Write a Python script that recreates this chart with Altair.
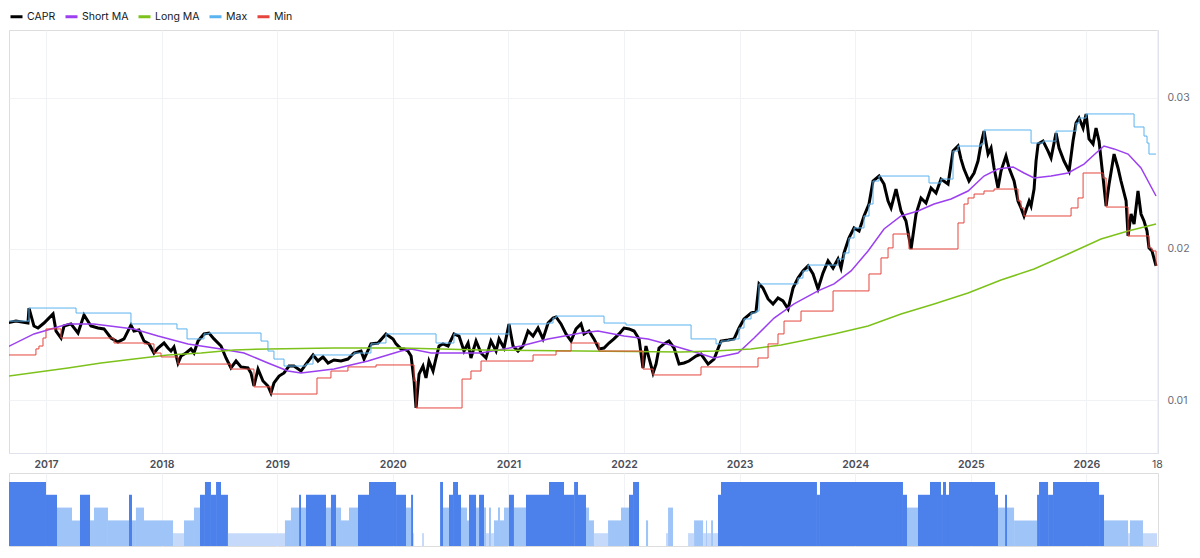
import altair as alt
import pandas as pd

# ---------------- data (decimal year, value) ----------------
series_names = ["CAPR", "Short MA", "Long MA", "Max", "Min"]
series_colors = ["#000000", "#9b3ff0", "#7cc21a", "#5bb3ef", "#e5453c"]

capr = [
    (2016.654, 0.01511), (2016.740, 0.01524), (2016.844, 0.01511), (2016.853, 0.01610), (2016.896, 0.01491),
    (2016.931, 0.01478), (2016.983, 0.01511), (2017.061, 0.01571), (2017.087, 0.01458), (2017.130, 0.01412),
    (2017.156, 0.01491), (2017.216, 0.01505), (2017.277, 0.01445), (2017.329, 0.01564), (2017.389, 0.01491),
    (2017.450, 0.01478), (2017.502, 0.01472), (2017.562, 0.01412), (2017.623, 0.01386), (2017.675, 0.01406),
    (2017.735, 0.01498), (2017.761, 0.01458), (2017.804, 0.01465), (2017.848, 0.01392), (2017.891, 0.01373),
    (2017.934, 0.01313), (2017.969, 0.01346), (2018.021, 0.01379), (2018.055, 0.01346), (2018.081, 0.01326),
    (2018.107, 0.01353), (2018.142, 0.01247), (2018.168, 0.01293), (2018.211, 0.01313), (2018.254, 0.01340),
    (2018.280, 0.01313), (2018.315, 0.01392), (2018.367, 0.01439), (2018.410, 0.01445), (2018.453, 0.01406),
    (2018.514, 0.01359), (2018.557, 0.01280), (2018.600, 0.01214), (2018.644, 0.01260), (2018.687, 0.01221),
    (2018.747, 0.01214), (2018.773, 0.01181), (2018.799, 0.01095), (2018.834, 0.01207), (2018.877, 0.01128),
    (2018.920, 0.01095), (2018.946, 0.01049), (2018.972, 0.01115), (2019.016, 0.01161), (2019.059, 0.01181),
    (2019.102, 0.01227), (2019.145, 0.01227), (2019.206, 0.01194), (2019.249, 0.01240), (2019.310, 0.01300),
    (2019.353, 0.01260), (2019.396, 0.01287), (2019.440, 0.01247), (2019.491, 0.01267), (2019.552, 0.01260),
    (2019.612, 0.01273), (2019.664, 0.01313), (2019.725, 0.01326), (2019.751, 0.01273), (2019.811, 0.01373),
    (2019.872, 0.01379), (2019.941, 0.01439), (2020.002, 0.01406), (2020.028, 0.01373), (2020.071, 0.01340),
    (2020.097, 0.01340), (2020.131, 0.01326), (2020.158, 0.01293), (2020.184, 0.01128), (2020.201, 0.00950),
    (2020.227, 0.01174), (2020.261, 0.01227), (2020.287, 0.01148), (2020.313, 0.01260), (2020.348, 0.01194),
    (2020.374, 0.01280), (2020.400, 0.01359), (2020.434, 0.01373), (2020.478, 0.01359), (2020.529, 0.01439),
    (2020.573, 0.01425), (2020.616, 0.01326), (2020.651, 0.01379), (2020.676, 0.01280), (2020.720, 0.01392),
    (2020.763, 0.01313), (2020.806, 0.01280), (2020.849, 0.01392), (2020.893, 0.01326), (2020.919, 0.01406),
    (2020.962, 0.01346), (2021.005, 0.01505), (2021.040, 0.01359), (2021.083, 0.01326), (2021.126, 0.01359),
    (2021.170, 0.01458), (2021.213, 0.01425), (2021.256, 0.01478), (2021.299, 0.01406), (2021.343, 0.01511),
    (2021.386, 0.01544), (2021.412, 0.01551), (2021.455, 0.01505), (2021.498, 0.01439), (2021.542, 0.01392),
    (2021.585, 0.01472), (2021.628, 0.01505), (2021.654, 0.01439), (2021.697, 0.01458), (2021.740, 0.01406),
    (2021.784, 0.01340), (2021.827, 0.01346), (2021.870, 0.01379), (2021.913, 0.01406), (2021.957, 0.01439),
    (2022.000, 0.01478), (2022.043, 0.01472), (2022.087, 0.01458), (2022.130, 0.01406), (2022.164, 0.01214),
    (2022.190, 0.01359), (2022.216, 0.01280), (2022.251, 0.01181), (2022.277, 0.01240), (2022.303, 0.01346),
    (2022.346, 0.01373), (2022.389, 0.01392), (2022.433, 0.01346), (2022.476, 0.01240), (2022.519, 0.01247),
    (2022.562, 0.01260), (2022.623, 0.01293), (2022.666, 0.01306), (2022.727, 0.01240), (2022.779, 0.01273),
    (2022.839, 0.01392), (2022.900, 0.01399), (2022.952, 0.01406), (2022.995, 0.01478), (2023.038, 0.01538),
    (2023.099, 0.01577), (2023.142, 0.01590), (2023.168, 0.01769), (2023.202, 0.01742), (2023.246, 0.01670),
    (2023.289, 0.01637), (2023.332, 0.01676), (2023.375, 0.01657), (2023.419, 0.01604), (2023.462, 0.01742),
    (2023.505, 0.01808), (2023.548, 0.01855), (2023.592, 0.01888), (2023.635, 0.01835), (2023.678, 0.01736),
    (2023.721, 0.01841), (2023.765, 0.01921), (2023.808, 0.01874), (2023.851, 0.01934), (2023.877, 0.01874),
    (2023.903, 0.01974), (2023.946, 0.02073), (2023.990, 0.02139), (2024.033, 0.02119), (2024.076, 0.02218),
    (2024.119, 0.02297), (2024.154, 0.02449), (2024.206, 0.02482), (2024.249, 0.02429), (2024.284, 0.02317),
    (2024.310, 0.02271), (2024.353, 0.02396), (2024.396, 0.02251), (2024.439, 0.02185), (2024.483, 0.02000),
    (2024.526, 0.02231), (2024.569, 0.02337), (2024.612, 0.02304), (2024.656, 0.02403), (2024.699, 0.02370),
    (2024.742, 0.02462), (2024.803, 0.02429), (2024.846, 0.02647), (2024.889, 0.02680), (2024.915, 0.02594),
    (2024.941, 0.02528), (2024.984, 0.02449), (2025.028, 0.02502), (2025.062, 0.02581), (2025.088, 0.02694),
    (2025.114, 0.02779), (2025.149, 0.02627), (2025.175, 0.02667), (2025.201, 0.02535), (2025.235, 0.02403),
    (2025.261, 0.02515), (2025.304, 0.02614), (2025.331, 0.02535), (2025.374, 0.02449), (2025.408, 0.02317),
    (2025.434, 0.02271), (2025.460, 0.02218), (2025.504, 0.02317), (2025.521, 0.02284), (2025.547, 0.02396),
    (2025.564, 0.02581), (2025.582, 0.02694), (2025.625, 0.02713), (2025.668, 0.02647), (2025.694, 0.02601),
    (2025.737, 0.02766), (2025.763, 0.02667), (2025.806, 0.02581), (2025.850, 0.02515), (2025.884, 0.02713),
    (2025.910, 0.02832), (2025.936, 0.02865), (2025.971, 0.02799), (2025.997, 0.02892), (2026.022, 0.02727),
    (2026.057, 0.02694), (2026.083, 0.02799), (2026.109, 0.02713), (2026.144, 0.02469), (2026.170, 0.02284),
    (2026.196, 0.02429), (2026.239, 0.02627), (2026.273, 0.02535), (2026.299, 0.02449), (2026.343, 0.02317),
    (2026.360, 0.02086), (2026.386, 0.02231), (2026.412, 0.02165), (2026.446, 0.02383), (2026.472, 0.02231),
    (2026.498, 0.02185), (2026.524, 0.02119), (2026.541, 0.02007), (2026.567, 0.01987), (2026.602, 0.01888),
]

short_ma = [
    (2016.654, 0.01348), (2016.896, 0.01439), (2017.190, 0.01505), (2017.415, 0.01505), (2017.761, 0.01472),
    (2017.969, 0.01425), (2018.228, 0.01373), (2018.514, 0.01340), (2018.713, 0.01313), (2018.920, 0.01247),
    (2019.093, 0.01194), (2019.206, 0.01181), (2019.491, 0.01207), (2019.785, 0.01260), (2019.898, 0.01287),
    (2020.071, 0.01326), (2020.158, 0.01340), (2020.331, 0.01313), (2020.763, 0.01313), (2021.109, 0.01359),
    (2021.343, 0.01406), (2021.628, 0.01445), (2021.775, 0.01458), (2022.000, 0.01425), (2022.208, 0.01406),
    (2022.433, 0.01359), (2022.640, 0.01313), (2022.779, 0.01280), (2022.986, 0.01313), (2023.125, 0.01412),
    (2023.298, 0.01544), (2023.471, 0.01637), (2023.678, 0.01723), (2023.817, 0.01769), (2023.964, 0.01855),
    (2024.111, 0.01987), (2024.249, 0.02132), (2024.396, 0.02218), (2024.543, 0.02251), (2024.682, 0.02297),
    (2024.829, 0.02330), (2024.976, 0.02383), (2025.114, 0.02482), (2025.235, 0.02528), (2025.365, 0.02542),
    (2025.460, 0.02502), (2025.547, 0.02469), (2025.694, 0.02482), (2025.841, 0.02502), (2025.979, 0.02561),
    (2026.083, 0.02634), (2026.152, 0.02680), (2026.239, 0.02661), (2026.360, 0.02627), (2026.472, 0.02535),
    (2026.602, 0.02350),
]

long_ma = [
    (2016.654, 0.01158), (2017.190, 0.01214), (2017.476, 0.01247), (2017.761, 0.01273), (2018.055, 0.01300),
    (2018.341, 0.01313), (2018.626, 0.01333), (2018.920, 0.01340), (2019.491, 0.01346), (2020.071, 0.01346),
    (2020.763, 0.01333), (2021.628, 0.01326), (2022.493, 0.01320), (2022.779, 0.01326), (2023.099, 0.01340),
    (2023.358, 0.01366), (2023.531, 0.01392), (2023.817, 0.01439), (2024.111, 0.01491), (2024.396, 0.01571),
    (2024.682, 0.01637), (2024.976, 0.01709), (2025.261, 0.01795), (2025.547, 0.01868), (2025.841, 0.01967),
    (2026.126, 0.02066), (2026.360, 0.02119), (2026.602, 0.02165),
]

max_line = [
    (2016.654, 0.01524), (2016.853, 0.01610), (2017.260, 0.01577), (2017.735, 0.01505), (2018.133, 0.01472),
    (2018.220, 0.01406), (2018.367, 0.01439), (2018.410, 0.01445), (2018.860, 0.01392), (2018.920, 0.01326),
    (2018.972, 0.01273), (2019.059, 0.01227), (2019.249, 0.01240), (2019.310, 0.01300), (2019.664, 0.01313),
    (2019.811, 0.01373), (2019.872, 0.01379), (2019.941, 0.01439), (2020.374, 0.01379), (2020.529, 0.01439),
    (2021.005, 0.01505), (2021.343, 0.01511), (2021.386, 0.01544), (2021.412, 0.01557), (2021.827, 0.01511),
    (2022.017, 0.01498), (2022.580, 0.01406), (2022.796, 0.01373), (2022.839, 0.01392), (2022.900, 0.01399),
    (2022.952, 0.01406), (2022.995, 0.01478), (2023.038, 0.01538), (2023.099, 0.01577), (2023.142, 0.01590),
    (2023.168, 0.01769), (2023.505, 0.01808), (2023.548, 0.01855), (2023.592, 0.01894), (2023.851, 0.01934),
    (2023.903, 0.01974), (2023.946, 0.02073), (2023.990, 0.02139), (2024.076, 0.02218), (2024.119, 0.02297),
    (2024.154, 0.02449), (2024.206, 0.02482), (2024.638, 0.02436), (2024.742, 0.02462), (2024.846, 0.02647),
    (2024.889, 0.02680), (2025.088, 0.02694), (2025.114, 0.02786), (2025.521, 0.02700), (2025.625, 0.02713),
    (2025.737, 0.02779), (2025.910, 0.02832), (2025.936, 0.02865), (2025.997, 0.02892), (2026.412, 0.02806),
    (2026.498, 0.02746), (2026.524, 0.02700), (2026.541, 0.02627), (2026.602, 0.02627),
]

min_line = [
    (2016.654, 0.01300), (2016.913, 0.01340), (2016.939, 0.01359), (2016.974, 0.01412), (2017.000, 0.01472),
    (2017.130, 0.01412), (2017.588, 0.01379), (2017.848, 0.01373), (2017.934, 0.01313), (2017.995, 0.01287),
    (2018.142, 0.01240), (2018.600, 0.01207), (2018.799, 0.01089), (2018.946, 0.01042), (2019.344, 0.01148),
    (2019.465, 0.01194), (2019.612, 0.01221), (2019.855, 0.01234), (2020.184, 0.01128), (2020.201, 0.00950),
    (2020.599, 0.01141), (2020.676, 0.01194), (2020.763, 0.01260), (2021.213, 0.01300), (2021.412, 0.01326),
    (2021.542, 0.01379), (2021.784, 0.01326), (2022.164, 0.01207), (2022.251, 0.01168), (2022.666, 0.01221),
    (2023.159, 0.01280), (2023.246, 0.01373), (2023.332, 0.01439), (2023.384, 0.01524), (2023.531, 0.01590),
    (2023.808, 0.01723), (2024.119, 0.01835), (2024.223, 0.01941), (2024.284, 0.02007), (2024.327, 0.02099),
    (2024.465, 0.02000), (2024.889, 0.02172), (2024.941, 0.02297), (2024.976, 0.02337), (2025.028, 0.02363),
    (2025.114, 0.02383), (2025.201, 0.02396), (2025.408, 0.02317), (2025.434, 0.02271), (2025.460, 0.02218),
    (2025.867, 0.02271), (2025.927, 0.02337), (2025.971, 0.02502), (2026.144, 0.02469), (2026.170, 0.02277),
    (2026.360, 0.02086), (2026.541, 0.02007), (2026.567, 0.01987), (2026.602, 0.01888),
]

# lower panel: (segment start year, level 0-5)
signal = [
    (2016.654, 5), (2017.000, 4), (2017.095, 3), (2017.225, 2), (2017.294, 4), (2017.381, 2), (2017.415, 3),
    (2017.536, 2), (2017.718, 4), (2017.744, 2), (2017.778, 3), (2017.848, 2), (2018.099, 1), (2018.194, 2),
    (2018.280, 3), (2018.332, 4), (2018.375, 5), (2018.427, 4), (2018.471, 5), (2018.514, 4), (2018.574, 1),
    (2019.067, 2), (2019.119, 3), (2019.189, 4), (2019.206, 3), (2019.249, 4), (2019.422, 3), (2019.465, 4),
    (2019.509, 3), (2019.552, 2), (2019.621, 3), (2019.699, 4), (2019.794, 5), (2020.028, 4), (2020.114, 3),
    (2020.158, 4), (2020.175, 1), (2020.184, 0), (2020.253, 1), (2020.270, 0), (2020.409, 5), (2020.434, 3),
    (2020.486, 4), (2020.521, 5), (2020.564, 4), (2020.590, 3), (2020.642, 2), (2020.659, 4), (2020.720, 3),
    (2020.746, 4), (2020.789, 3), (2020.806, 1), (2020.832, 3), (2020.849, 1), (2020.875, 2), (2020.910, 3),
    (2020.927, 2), (2020.962, 3), (2021.005, 4), (2021.048, 3), (2021.152, 4), (2021.351, 5), (2021.481, 4),
    (2021.568, 5), (2021.602, 4), (2021.671, 3), (2021.697, 2), (2021.740, 1), (2021.862, 2), (2021.974, 3),
    (2022.043, 4), (2022.078, 5), (2022.130, 0), (2022.190, 2), (2022.208, 0), (2022.363, 1), (2022.381, 3),
    (2022.424, 0), (2022.554, 1), (2022.606, 2), (2022.684, 1), (2022.710, 2), (2022.718, 1), (2022.753, 2),
    (2022.770, 1), (2022.813, 4), (2022.839, 5), (2023.669, 4), (2023.695, 5), (2024.413, 4), (2024.448, 3),
    (2024.543, 4), (2024.647, 5), (2024.742, 4), (2024.759, 5), (2024.785, 4), (2024.811, 5), (2025.209, 4),
    (2025.235, 3), (2025.296, 4), (2025.313, 3), (2025.374, 2), (2025.573, 4), (2025.590, 5), (2025.668, 4),
    (2025.711, 5), (2026.109, 4), (2026.152, 2), (2026.360, 1), (2026.377, 2), (2026.489, 1),
]
signal_end = 2026.611

x_tick_values = [2017, 2018, 2019, 2020, 2021, 2022, 2023, 2024, 2025, 2026, 2026.61]
x_tick_labels = ["2017", "2018", "2019", "2020", "2021", "2022", "2023", "2024", "2025", "2026", "18"]
y_tick_values = [0.01, 0.02, 0.03]

# ---------------- styles ----------------
FONT = "Inter"
FS = 10.5
x_domain = [2016.680, 2026.619]
y_domain = [0.006525, 0.034465]
level_colors = {1: "#c5dafa", 2: "#9fc4f7", 3: "#9fc4f7", 4: "#4c80eb", 5: "#4c80eb"}
GRID = "#f0f2f6"
BORDER = "#e0e3eb"

rows = []
for name, pts in zip(series_names, [capr, short_ma, long_ma, max_line, min_line]):
    for yr, v in pts:
        rows.append({"series": name, "year": yr, "value": v})
df = pd.DataFrame(rows)

seg_rows = []
for i, (start, lvl) in enumerate(signal):
    end = signal[i + 1][0] if i + 1 < len(signal) else signal_end
    if lvl > 0:
        seg_rows.append({"start": start, "end": end, "level": lvl, "col": level_colors[lvl]})
sdf = pd.DataFrame(seg_rows)

label_expr = "''"
for v, lab in zip(reversed(x_tick_values), reversed(x_tick_labels)):
    label_expr = f"(abs(datum.value - {v}) < 0.001 ? '{lab}' : {label_expr})"

x_scale = alt.Scale(domain=x_domain, nice=False, zero=False)
y_scale = alt.Scale(domain=y_domain, nice=False, zero=False)

x_axis = alt.Axis(
    values=x_tick_values, labelExpr=label_expr, title=None, ticks=False, tickSize=0,
    labelPadding=6, labelFontSize=FS, labelFont=FONT, labelColor="#4a4e59",
    labelFontWeight={"condition": {"test": "datum.value > 2026.5", "value": "normal"}, "value": 600},
    grid=True, gridColor=GRID, domain=True, domainColor=BORDER, labelFlush=False,
)
y_axis = alt.Axis(
    orient="right", values=y_tick_values, format=".2f", title=None, ticks=False, tickSize=0,
    labelPadding=9, labelFontSize=FS, labelFont=FONT, labelColor="#6a6d78",
    grid=True, gridColor=GRID, domain=True, domainColor=BORDER,
)

color = alt.Color(
    "series:N",
    scale=alt.Scale(domain=series_names, range=series_colors),
    legend=alt.Legend(
        title=None, orient="none", legendX=0, legendY=-21, direction="horizontal",
        symbolType="stroke", symbolStrokeWidth=3, symbolSize=144, labelFont=FONT,
        labelFontSize=FS, labelColor="#131722", labelOffset=3, columnPadding=3,
    ),
)

base = alt.Chart(df).encode(
    x=alt.X("year:Q", scale=x_scale, axis=x_axis),
    y=alt.Y("value:Q", scale=y_scale, axis=y_axis),
    color=color,
    order="year:Q",
)

capr_layer = base.transform_filter(alt.datum.series == "CAPR").mark_line(strokeWidth=3, clip=True)
short_layer = base.transform_filter(alt.datum.series == "Short MA").mark_line(strokeWidth=1.5, clip=True)
long_layer = base.transform_filter(alt.datum.series == "Long MA").mark_line(strokeWidth=1.5, clip=True)
max_layer = base.transform_filter(alt.datum.series == "Max").mark_line(strokeWidth=1, interpolate="step-after", clip=True)
min_layer = base.transform_filter(alt.datum.series == "Min").mark_line(strokeWidth=1, interpolate="step-after", clip=True)

main = alt.layer(capr_layer, short_layer, long_layer, max_layer, min_layer).properties(width=1149, height=423)

lower = alt.Chart(sdf).mark_rect(clip=True).encode(
    x=alt.X("start:Q", scale=x_scale,
            axis=alt.Axis(values=x_tick_values[:-1], labels=False, ticks=False, domain=False,
                          grid=True, gridColor=GRID, title=None)),
    x2="end:Q",
    y=alt.Y("level:Q", scale=alt.Scale(domain=[0, 5.7], nice=False), axis=None),
    y2=alt.datum(0),
    color=alt.Color("col:N", scale=None),
).properties(width=1149, height=73)

chart = alt.vconcat(main, lower, spacing=2).resolve_scale(color="independent").properties(
    padding={"left": 0, "top": 0, "right": 0, "bottom": 0}
).configure_view(stroke=None).configure(font=FONT)

chart.save("out.html", embed_options={"renderer": "svg", "actions": False})
